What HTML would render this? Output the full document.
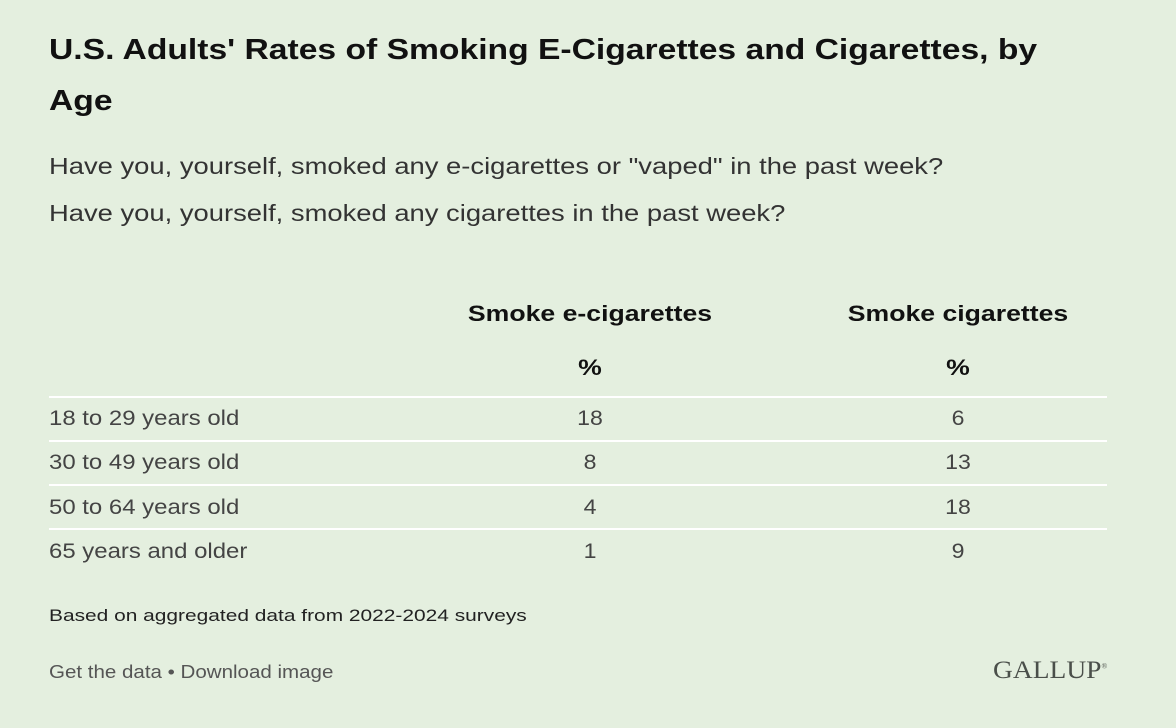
<!DOCTYPE html>
<html><head><style>
body{margin:0;width:1176px;height:728px;background:#e4efdf;font-family:"Liberation Sans",sans-serif;color:#222;position:relative;overflow:hidden}
.a{position:absolute;white-space:nowrap;transform-origin:left center}
.t{left:49px;font-size:29px;font-weight:bold;color:#111;line-height:51px;transform:scaleX(1.16)}
.s{left:49px;font-size:23px;color:#333;transform:scaleX(1.19)}
.h{font-size:22px;font-weight:bold;color:#111;transform-origin:center;transform:translateX(-50%) scaleX(1.21)}
.r{left:49px;font-size:21px;color:#444;transform:scaleX(1.14)}
.n{font-size:21px;color:#444;transform:translateX(-50%) scaleX(1.1);transform-origin:center}
.l{position:absolute;left:49px;width:1058px;height:2px;background:#fff}
</style></head><body>
<div class="a t" style="top:25px">U.S. Adults' Rates of Smoking E-Cigarettes and Cigarettes, by<br>Age</div>
<div class="a s" style="top:153px">Have you, yourself, smoked any e-cigarettes or "vaped" in the past week?</div>
<div class="a s" style="top:200px">Have you, yourself, smoked any cigarettes in the past week?</div>
<div class="a h" style="left:590px;top:301px">Smoke e-cigarettes</div>
<div class="a h" style="left:958px;top:301px">Smoke cigarettes</div>
<div class="a h" style="left:590px;top:355px">%</div>
<div class="a h" style="left:958px;top:355px">%</div>
<div class="l" style="top:396px"></div>
<div class="l" style="top:440px"></div>
<div class="l" style="top:484px"></div>
<div class="l" style="top:528px"></div>
<div class="a r" style="top:407px">18 to 29 years old</div><div class="a n" style="left:590px;top:407px">18</div><div class="a n" style="left:958px;top:407px">6</div>
<div class="a r" style="top:451px">30 to 49 years old</div><div class="a n" style="left:590px;top:451px">8</div><div class="a n" style="left:958px;top:451px">13</div>
<div class="a r" style="top:496px">50 to 64 years old</div><div class="a n" style="left:590px;top:496px">4</div><div class="a n" style="left:958px;top:496px">18</div>
<div class="a r" style="top:540px">65 years and older</div><div class="a n" style="left:590px;top:540px">1</div><div class="a n" style="left:958px;top:540px">9</div>
<div class="a" style="left:49px;top:606px;font-size:17px;color:#222;transform:scaleX(1.23)">Based on aggregated data from 2022-2024 surveys</div>
<div class="a" style="left:49px;top:662px;font-size:18px;color:#555;transform:scaleX(1.14)">Get the data • Download image</div>
<div class="a" style="left:993px;top:657px;font-family:'Liberation Serif',serif;font-size:25px;color:#4a4f4a;transform:scaleX(1.1)">GALLUP<sup style="font-size:7px">®</sup></div>
</body></html>
